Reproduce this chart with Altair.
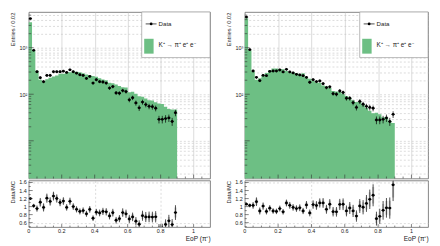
import altair as alt
import numpy as np
import pandas as pd

# EoP histogram: 45 bins of width 0.02 from 0 to 0.9
bin_width = 0.02
n_bins = 45

# Left sample: observed counts and simulated K+ -> pi+ e+ e- expectation
left_data = [4210, 878, 304, 226, 186, 254, 254, 304, 304, 304,
             313, 294, 335, 304, 284, 262, 254, 219, 241, 174,
             205, 186, 183, 174, 136, 146, 107, 105, 120, 114,
             76, 84, 65, 51, 68, 60, 55, 54, 50, 29,
             29, 30, 31, 26, 40]
left_mc = [3508, 861, 320, 204, 190, 210, 225, 241, 253, 276,
           275, 300, 296, 304, 305, 298, 282, 267, 259, 245,
           238, 221, 208, 200, 177, 172, 162, 150, 141, 139,
           110, 113, 102, 91, 88, 81, 74, 73, 67, 63,
           62, 54, 48, 47, 47]

# Right sample
right_data = [4540, 906, 316, 231, 196, 255, 251, 311, 316, 316,
              332, 301, 343, 301, 287, 268, 260, 251, 231, 181,
              206, 187, 193, 169, 139, 144, 103, 100, 118, 109,
              82, 82, 66, 52, 70, 61, 55, 52, 50, 28,
              28, 29, 31, 26, 37]
right_mc = [4283, 880, 307, 206, 220, 252, 285, 324, 355, 359,
            349, 346, 315, 292, 293, 282, 268, 282, 222, 215,
            196, 182, 177, 155, 149, 136, 118, 115, 112, 103,
            92, 85, 74, 68, 69, 62, 51, 44, 39, 40,
            37, 32, 32, 27, 24]

legend_labels = ["Data", "K\u207a \u2192 \u03c0\u207a e\u207a e\u207b"]
x_title = "EoP (\u03c0\u207a)"
y_title_up = "Entries / 0.02"
y_title_lo = "Data/MC"

x_major = [0, 0.2, 0.4, 0.6, 0.8, 1.0]
x_major_labels = ["0", "0.2", "0.4", "0.6", "0.8", "1"]
ratio_ticks = [0.6, 0.8, 1.0, 1.2, 1.4, 1.6]
ratio_labels = ["0.6", "0.8", "1", "1.2", "1.4", "1.6"]
log_ticks = [m * 10 ** k for k in range(0, 4) for m in range(1, 10)
             if 1.55 < m * 10 ** k < 5830]

FONT = "Liberation Sans"
GREEN = "#6dbf84"
GRID = "#c4c4c4"
INK = "#222222"
H_UP, H_LO = 168, 47
Y_FLOOR = 1.55

x_scale = alt.Scale(domain=[0, 1.1], nice=False, zero=False)
y_up_scale = alt.Scale(type="log", domain=[Y_FLOOR, 5830], nice=False)
y_lo_scale = alt.Scale(domain=[0.49, 1.65], nice=False, zero=False)


def frame(data, mc):
    d = np.array(data, dtype=float)
    m = np.array(mc, dtype=float)
    lo = np.arange(n_bins) * bin_width
    r = d / m
    r_err = r * np.sqrt(1 / d + 1 / m)
    mc_err = r * np.sqrt(1 / m)
    return pd.DataFrame({
        "lo": lo, "hi": lo + bin_width, "c": lo + bin_width / 2,
        "data": d, "mc": m,
        "dlo": d - np.sqrt(d), "dhi": d + np.sqrt(d),
        "r": r, "rlo": r - r_err, "rhi": r + r_err,
        "mlo": r - mc_err, "mhi": r + mc_err,
    })


def step_frame(mc):
    # left bin edges plus the closing edge, for a step-after area
    edges = list(np.arange(n_bins) * bin_width) + [n_bins * bin_width]
    return pd.DataFrame({"edge": edges, "mc": list(mc) + [mc[-1]],
                         "floor": [Y_FLOOR] * (n_bins + 1)})


def inward_ticks(values, channel, scale, length, pos_end):
    df = pd.DataFrame({"v": values})
    if channel == "y":
        return alt.Chart(df).mark_rule(color="#333", strokeWidth=0.6).encode(
            y=alt.Y("v:Q", scale=scale), x=alt.value(0), x2=alt.value(length))
    return alt.Chart(df).mark_rule(color="#333", strokeWidth=0.6).encode(
        x=alt.X("v:Q", scale=scale), y=alt.value(pos_end), y2=alt.value(pos_end - length))


def legend_layers(width):
    one = pd.DataFrame({"k": [0]})
    box = alt.Chart(one).mark_rect(fill="white", stroke="#999", strokeWidth=0.7).encode(
        x=alt.value(width - 69), x2=alt.value(width), y=alt.value(0), y2=alt.value(46))
    line = alt.Chart(one).mark_rule(color="black", strokeWidth=0.7).encode(
        x=alt.value(width - 65), x2=alt.value(width - 54), y=alt.value(12))
    dot = alt.Chart(one).mark_circle(color="black", size=8, opacity=1).encode(
        x=alt.value(width - 59.5), y=alt.value(12))
    swatch = alt.Chart(one).mark_rect(color=GREEN).encode(
        x=alt.value(width - 66.5), x2=alt.value(width - 57), y=alt.value(27), y2=alt.value(42))
    t1 = alt.Chart(one).mark_text(text=legend_labels[0], align="left", baseline="middle",
                                  font=FONT, fontSize=6.2, color=INK).encode(
        x=alt.value(width - 52), y=alt.value(12))
    t2 = alt.Chart(one).mark_text(text=legend_labels[1], align="left", baseline="middle",
                                  font=FONT, fontSize=6.4, color=INK).encode(
        x=alt.value(width - 52), y=alt.value(33))
    return [box, line, dot, swatch, t1, t2]


def upper(df, sdf, width):
    base = alt.Chart(df)
    hist = alt.Chart(sdf).mark_area(color=GREEN, opacity=1, interpolate="step-after").encode(
        x=alt.X("edge:Q", scale=x_scale,
                axis=alt.Axis(values=x_major[1:], grid=True, gridColor=GRID, gridWidth=0.6,
                              labels=False, ticks=False, domain=False, title=None,
                              minExtent=0, maxExtent=0)),
        y=alt.Y("mc:Q", scale=y_up_scale,
                axis=alt.Axis(values=log_ticks, grid=True, gridColor=GRID, gridWidth=0.6,
                              gridDash=[2, 2], ticks=False, tickSize=0, domain=False,
                              labelOverlap=False, labelPadding=2,
                              labelExpr="datum.value == 100 ? '10\u00b2' : datum.value == 1000 ? '10\u00b3' : ''",
                              title=y_title_up, titleAnchor="end", titlePadding=1.5,
                              minExtent=12, maxExtent=12)),
        y2="floor:Q",
    )
    xbar = base.mark_rule(color="black", strokeWidth=0.7).encode(
        x="lo:Q", x2="hi:Q", y="data:Q")
    ybar = base.mark_rule(color="black", strokeWidth=0.7).encode(
        x="c:Q", y="dlo:Q", y2="dhi:Q")
    pts = base.mark_circle(color="black", size=8, opacity=1).encode(x="c:Q", y="data:Q")
    major_y = [v for v in log_ticks if v in (10, 100, 1000)]
    minor_y = [v for v in log_ticks if v not in (10, 100, 1000)]
    minor_x = [round(0.05 * i, 2) for i in range(1, 22) if round(0.05 * i, 2) not in x_major]
    layers = [hist, xbar, ybar, pts,
              inward_ticks(major_y, "y", y_up_scale, 5, 0),
              inward_ticks(minor_y, "y", y_up_scale, 2.5, 0),
              inward_ticks(x_major[1:], "x", x_scale, 4, H_UP),
              inward_ticks(minor_x, "x", x_scale, 2, H_UP)]
    layers += legend_layers(width)
    return alt.layer(*layers).properties(width=width, height=H_UP)


def lower(df, width):
    base = alt.Chart(df)
    mcbar = base.mark_rule(color="#cfcfcf", strokeWidth=2.2, clip=True).encode(
        x=alt.X("c:Q", scale=x_scale,
                axis=alt.Axis(values=x_major, grid=True, gridColor=GRID,
                              gridWidth=0.6, gridDash=[2, 2], ticks=False, labels=False,
                              domain=False, title=x_title, titleAnchor="end",
                              titlePadding=9, titleFontSize=6.6)),
        y=alt.Y("mlo:Q", scale=y_lo_scale,
                axis=alt.Axis(values=ratio_ticks, grid=True, gridColor=GRID,
                              gridWidth=0.6, gridDash=[2, 2], ticks=False, labels=False,
                              domain=False, title=y_title_lo, titleAnchor="end",
                              titlePadding=1.5, minExtent=12, maxExtent=12)),
        y2="mhi:Q",
    )
    ybar = base.mark_rule(color="black", strokeWidth=0.7, clip=True).encode(
        x="c:Q", y="rlo:Q", y2="rhi:Q")
    xbar = base.mark_rule(color="black", strokeWidth=0.7, clip=True).encode(
        x="lo:Q", x2="hi:Q", y="r:Q")
    pts = base.mark_circle(color="black", size=8, opacity=1, clip=True).encode(
        x="c:Q", y="r:Q")
    ylab = alt.Chart(pd.DataFrame({"v": ratio_ticks, "t": ratio_labels})).mark_text(
        align="right", baseline="middle", font=FONT, fontSize=5.5, color=INK).encode(
        y=alt.Y("v:Q", scale=y_lo_scale), x=alt.value(-2), text="t:N")
    xlab = alt.Chart(pd.DataFrame({"v": x_major, "t": x_major_labels})).mark_text(
        align="center", baseline="top", font=FONT, fontSize=5.5, color=INK).encode(
        x=alt.X("v:Q", scale=x_scale), y=alt.value(H_LO + 1.5), text="t:N")
    minor_x = [round(0.05 * i, 2) for i in range(1, 22) if round(0.05 * i, 2) not in x_major]
    minor_r = [0.5, 0.7, 0.9, 1.1, 1.3, 1.5]
    layers = [mcbar, ybar, xbar, pts, ylab, xlab,
              inward_ticks(ratio_ticks, "y", y_lo_scale, 4, 0),
              inward_ticks(minor_r, "y", y_lo_scale, 2, 0),
              inward_ticks(x_major[1:], "x", x_scale, 3, H_LO),
              inward_ticks(minor_x, "x", x_scale, 1.5, H_LO)]
    return alt.layer(*layers).properties(width=width, height=H_LO)


def column(data, mc, width):
    df = frame(data, mc)
    return alt.vconcat(upper(df, step_frame(mc), width), lower(df, width), spacing=0)


chart = alt.hconcat(
    column(left_data, left_mc, 183),
    column(right_data, right_mc, 185),
    spacing=14,
).properties(
    padding={"left": 9, "top": 10, "right": 11, "bottom": 6},
).configure_view(
    stroke="#666", strokeWidth=0.8,
).configure_axis(
    labelFont=FONT, titleFont=FONT, labelFontSize=5.5, titleFontSize=5.8,
    labelColor=INK, titleColor=INK, titleFontWeight="normal", labelOverlap=False,
)

chart.save("out.html", embed_options={"renderer": "svg", "actions": False})
